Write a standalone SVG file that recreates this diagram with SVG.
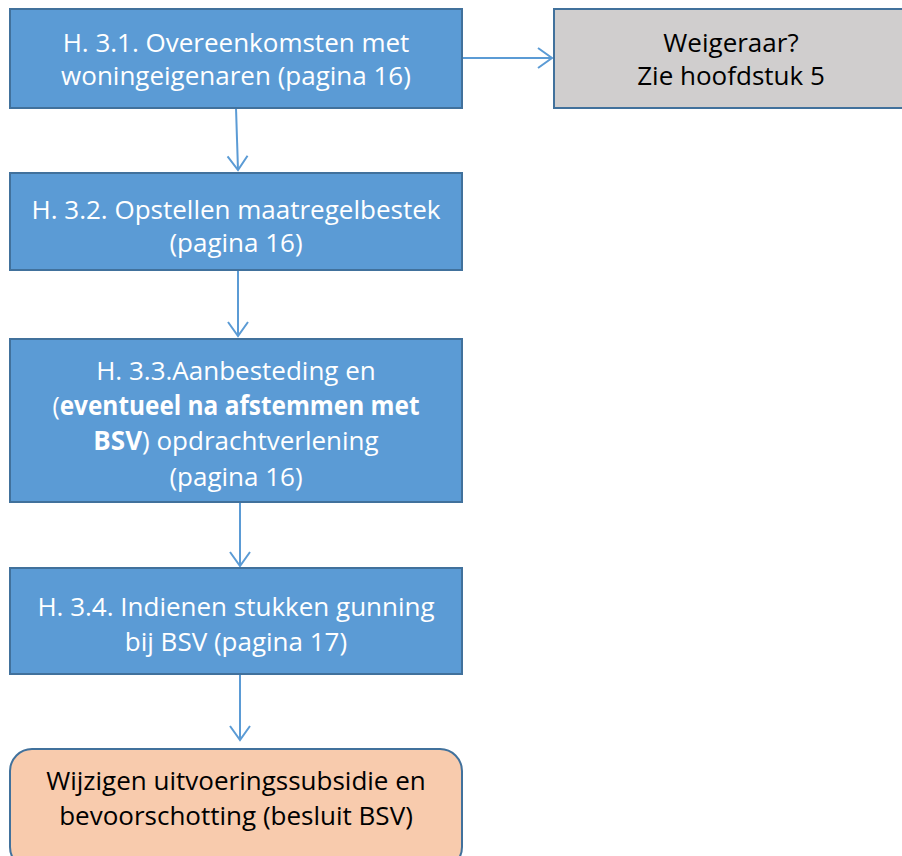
<svg xmlns="http://www.w3.org/2000/svg" width="902" height="856" viewBox="0 0 902 856">
<defs>
<style>
.blue{fill:#5B9BD5;stroke:#41719C;stroke-width:2}
.gray{fill:#D0CECE;stroke:#41719C;stroke-width:2}
.orange{fill:#F8CBAD;stroke:#41719C;stroke-width:2}
text{font-family:"Open Sans","Liberation Sans",sans-serif;font-size:26px;text-anchor:middle}
.w{fill:#FFFFFF}
.k{fill:#000000}
.conn{stroke:#5B9BD5;stroke-width:2;fill:none}
</style>
<marker id="ah" markerWidth="18" markerHeight="24" refX="15" refY="11" orient="auto" markerUnits="userSpaceOnUse">
<path d="M1,1 L15,11 L1,21" fill="none" stroke="#5B9BD5" stroke-width="2"/>
</marker>
</defs>
<rect width="902" height="856" fill="#FFFFFF"/>
<g id="connectors">
<line class="conn" x1="462" y1="58" x2="552" y2="58" marker-end="url(#ah)"/>
<line class="conn" x1="236" y1="108" x2="238" y2="170" marker-end="url(#ah)"/>
<line class="conn" x1="238" y1="270" x2="238" y2="336" marker-end="url(#ah)"/>
<line class="conn" x1="240" y1="502" x2="240" y2="566" marker-end="url(#ah)"/>
<line class="conn" x1="240" y1="674" x2="240" y2="740" marker-end="url(#ah)"/>
</g>
<g id="n1">
<rect class="blue" x="10" y="9" width="452" height="99"/>
<text class="w" x="236" y="52">H. 3.1. Overeenkomsten met</text>
<text class="w" x="236" y="85">woningeigenaren (pagina 16)</text>
</g>
<g id="n2">
<rect class="gray" x="554" y="9" width="352" height="99"/>
<text class="k" x="731" y="52">Weigeraar?</text>
<text class="k" x="731" y="85">Zie hoofdstuk 5</text>
</g>
<g id="n3">
<rect class="blue" x="10" y="173" width="452" height="97"/>
<text class="w" x="236" y="219">H. 3.2. Opstellen maatregelbestek</text>
<text class="w" x="236" y="252">(pagina 16)</text>
</g>
<g id="n4">
<rect class="blue" x="10" y="339" width="452" height="163"/>
<text class="w" x="236" y="380">H. 3.3.Aanbesteding en</text>
<text class="w" x="236" y="415" textLength="367" lengthAdjust="spacingAndGlyphs">(<tspan font-weight="bold">eventueel na afstemmen met</tspan></text>
<text class="w" x="236" y="450"><tspan font-weight="bold">BSV</tspan>) opdrachtverlening</text>
<text class="w" x="236" y="486">(pagina 16)</text>
</g>
<g id="n5">
<rect class="blue" x="10" y="568" width="452" height="106"/>
<text class="w" x="236" y="616">H. 3.4. Indienen stukken gunning</text>
<text class="w" x="236" y="651">bij BSV (pagina 17)</text>
</g>
<g id="n6">
<rect class="orange" x="10" y="749" width="452" height="120" rx="22" ry="22"/>
<text class="k" x="236" y="790">Wijzigen uitvoeringssubsidie en</text>
<text class="k" x="236" y="825">bevoorschotting (besluit BSV)</text>
</g>
</svg>
